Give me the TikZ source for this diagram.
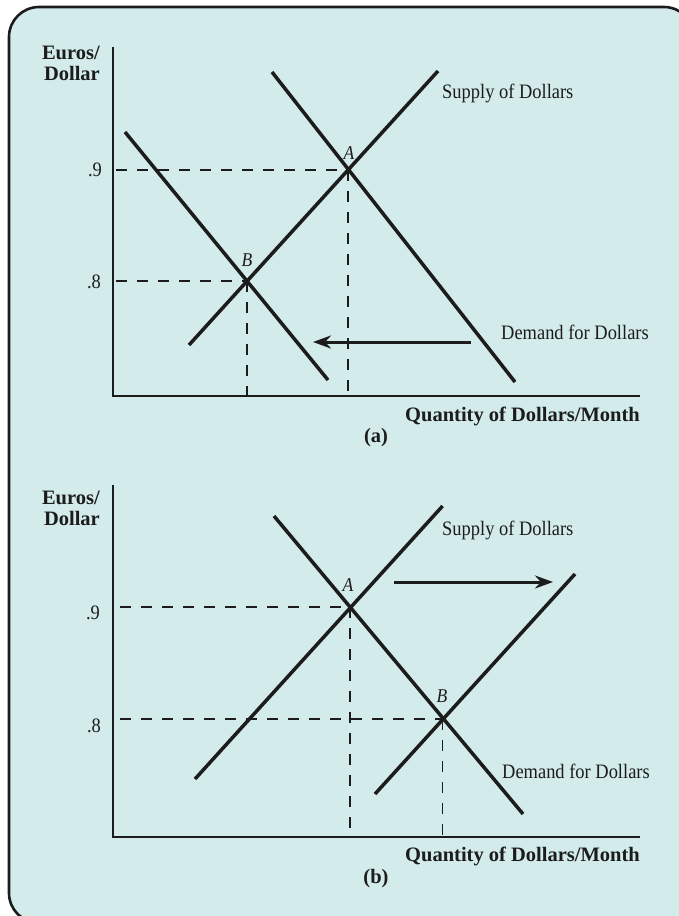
\documentclass[tikz,border=0pt]{standalone}
\usepackage{fontspec}
\setmainfont{Liberation Serif}
\newfontfamily\narrowserif{Liberation Serif}[FakeStretch=0.9]
\usetikzlibrary{positioning,arrows.meta}
\definecolor{panelbg}{RGB}{211,235,234}
\definecolor{inkdark}{RGB}{28,28,28}

\begin{document}
\begin{tikzpicture}[x=1pt, y=-1pt,
    frame/.style={line width=2.6pt, draw=inkdark, fill=panelbg, rounded corners=30pt},
    curve/.style={line width=3.5pt, draw=inkdark},
    axis/.style={line width=1.3pt, draw=inkdark},
    guide/.style={line width=1.1pt, draw=inkdark, dash pattern=on 11pt off 10pt},
    shiftarrow/.style={line width=3pt, draw=inkdark, -{Stealth[length=18pt,width=13pt]}},
    lbl/.style={font=\narrowserif\fontsize{20.5}{22}\selectfont, text=inkdark, inner sep=0pt},
    ttl/.style={font=\fontsize{20.5}{21}\selectfont\bfseries, text=inkdark, inner sep=0pt, align=right},
    pt/.style={font=\narrowserif\fontsize{19.5}{21}\selectfont\itshape, text=inkdark, inner sep=0pt}
]
\clip (0,0) rectangle (679,916);
\draw[frame] (9,7) rectangle (694,923);

% Panel (a): demand for dollars falls
\coordinate (a-orig) at (113,396);
\coordinate (a-ytop) at (113,47);
\coordinate (a-xend) at (640,396);
\coordinate (a-s1) at (189,345);
\coordinate (a-s2) at (438,71);
\coordinate (a-d1) at (272,72);
\coordinate (a-d2) at (515,382);
\coordinate (a-e1) at (125,132);
\coordinate (a-e2) at (328,380);
\coordinate (a-A) at (348,170);
\coordinate (a-B) at (247,281);
\coordinate (a-h9) at (116,170);
\coordinate (a-h8) at (116,281);
\coordinate (a-arr1) at (471,342);
\coordinate (a-arr2) at (313,342);

\draw[axis] (a-ytop) -- (a-orig) -- (a-xend);
\draw[guide] (a-h9) -- (a-A);
\draw[guide] (a-A) -- (a-A |- a-orig);
\draw[guide] (a-h8) -- (a-B);
\draw[guide] (a-B) -- (a-B |- a-orig);
\draw[curve] (a-s1) -- (a-s2);
\draw[curve] (a-d1) -- (a-d2);
\draw[curve] (a-e1) -- (a-e2);
\draw[shiftarrow] (a-arr1) -- (a-arr2);

\node[ttl, anchor=east] at (100,63) (a-ylab) {Euros/\\Dollar};
\node[lbl] at (95,170) (a-t9) {.9};
\node[lbl] at (94,282) (a-t8) {.8};
\node[pt] at (349,153) (a-Alab) {A};
\node[pt] at (247,260) (a-Blab) {B};
\node[lbl, anchor=west] at (442,93) (a-slab) {Supply of Dollars};
\node[lbl, anchor=west] at (501,332) (a-dlab) {Demand for Dollars};
\node[ttl, anchor=east] at (640,416) (a-xlab) {Quantity of Dollars/Month};
\node[ttl] at (376,438) (a-cap) {(a)};

% Panel (b): supply of dollars rises
\coordinate (b-orig) at (113,837);
\coordinate (b-ytop) at (113,485);
\coordinate (b-xend) at (640,837);
\coordinate (b-d1) at (274,516);
\coordinate (b-d2) at (523,814);
\coordinate (b-s1) at (195,779);
\coordinate (b-s2) at (442.6,506);
\coordinate (b-t1) at (375,794);
\coordinate (b-t2) at (575,574);
\coordinate (b-A) at (350,607);
\coordinate (b-B) at (442.6,719);
\coordinate (b-h9) at (120,607);
\coordinate (b-h8) at (120,719);
\coordinate (b-arr1) at (394,582);
\coordinate (b-arr2) at (553,582);

\draw[axis] (b-ytop) -- (b-orig) -- (b-xend);
\draw[guide] (b-h9) -- (b-A);
\draw[guide] (b-A) -- (b-A |- b-orig);
\draw[guide] (b-h8) -- (b-B);
\draw[guide] (b-B) -- (b-B |- b-orig);
\draw[curve] (b-d1) -- (b-d2);
\draw[curve] (b-s1) -- (b-s2);
\draw[curve] (b-t1) -- (b-t2);
\draw[shiftarrow] (b-arr1) -- (b-arr2);

\node[ttl, anchor=east] at (100,508) (b-ylab) {Euros/\\Dollar};
\node[lbl] at (93,613) (b-t9) {.9};
\node[lbl] at (94,726) (b-t8) {.8};
\node[pt] at (348,585) (b-Alab) {A};
\node[pt] at (442,696) (b-Blab) {B};
\node[lbl, anchor=west] at (442,530) (b-slab) {Supply of Dollars};
\node[lbl, anchor=west] at (502,771) (b-dlab) {Demand for Dollars};
\node[ttl, anchor=east] at (640,856) (b-xlab) {Quantity of Dollars/Month};
\node[ttl] at (376,879) (b-cap) {(b)};
\end{tikzpicture}
\end{document}
